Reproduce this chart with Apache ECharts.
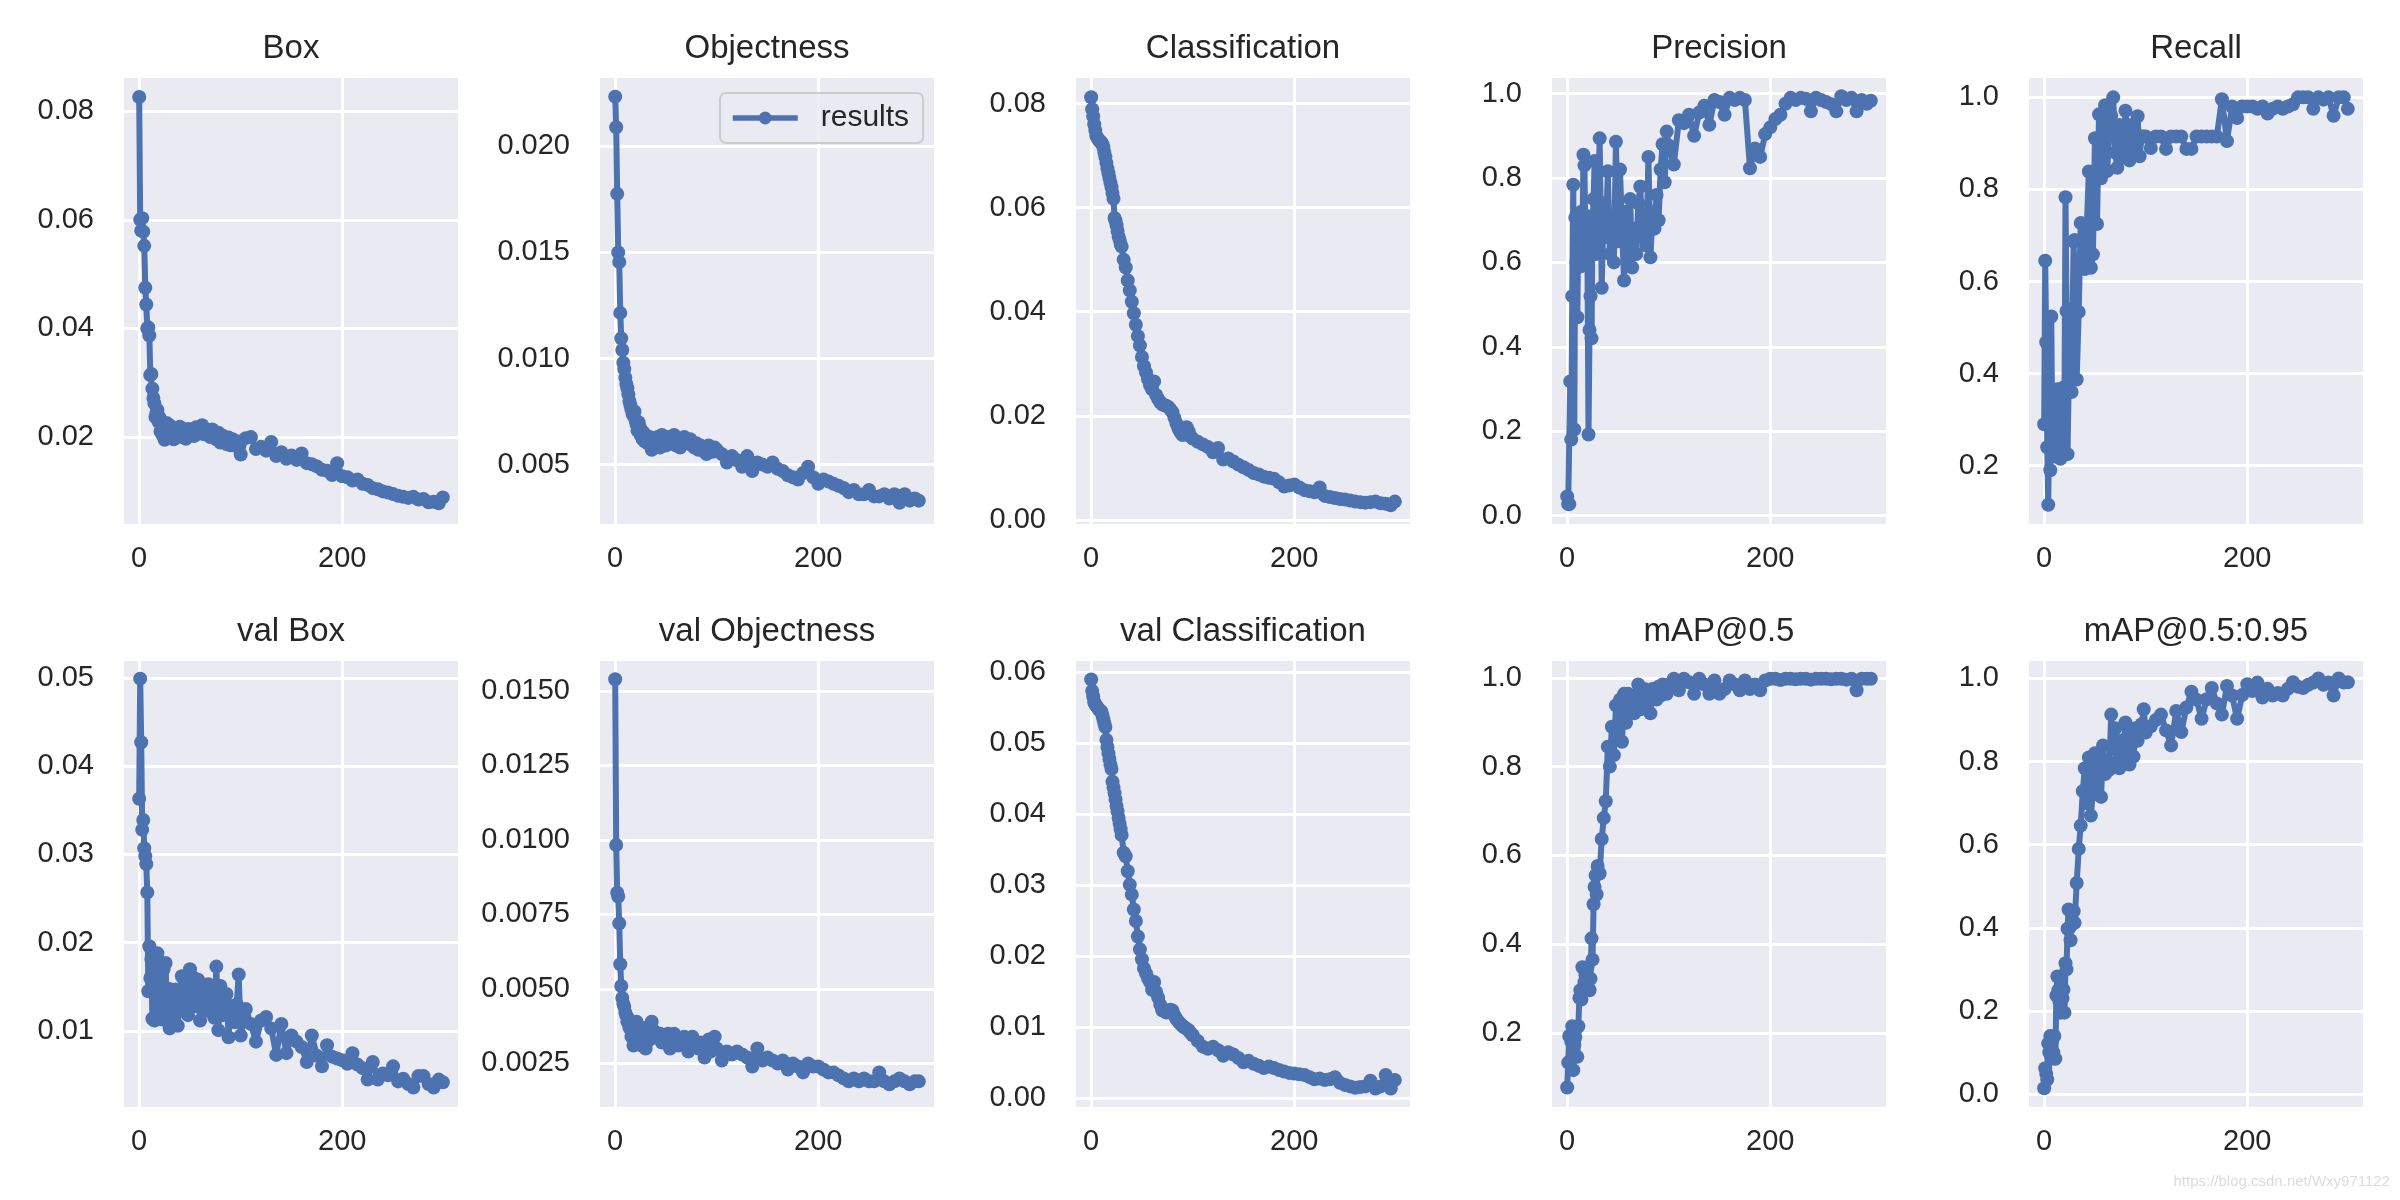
<!DOCTYPE html>
<html><head><meta charset="utf-8">
<script src="https://cdn.jsdelivr.net/npm/echarts@6/dist/echarts.min.js"></script>
<style>html,body{margin:0;padding:0;background:#fff}#c{width:2400px;height:1200px}</style>
</head><body><div id="c"></div>
<script>
// ---------- data (epochs and per-panel values) ----------
const epochs = [0,1,2,3,4,5,6,7,8,9,10,11,12,13,14,15,
 16,17,18,19,20,21,22,23,24,25,26,27,28,29,30,
 32,34,36,38,40,42,44,46,48,50,52,54,56,58,60,62,64,66,
 68,70,72,74,76,78,80,82,84,86,88,90,92,94,96,98,100,
 105,110,115,120,125,130,135,140,145,150,155,160,165,170,175,180,185,190,195,
 200,205,210,215,220,225,230,235,240,245,250,255,260,265,270,275,280,285,290,295,
 299];

const boxLoss = [0.0826,0.0600,0.0580,0.0603,0.0578,0.0552,0.0475,0.0444,0.0400,0.0402,0.0387,0.0314,0.0316,0.0289,0.0272,0.0262,
 0.0237,0.0245,0.0250,0.0228,0.0236,0.0210,0.0215,0.0204,0.0220,0.0195,0.0205,0.0226,0.0212,0.0198,0.0222,
 0.0208,0.0196,0.0215,0.0203,0.0219,0.0200,0.0210,0.0197,0.0215,0.0204,0.0212,0.0202,0.0218,0.0206,0.0214,0.0222,0.0205,0.0210,
 0.0213,0.0200,0.0214,0.0204,0.0196,0.0208,0.0190,0.0203,0.0194,0.0187,0.0199,0.0185,0.0196,0.0190,0.0183,0.0192,0.0168,
 0.0198,0.0200,0.0178,0.0182,0.0175,0.0191,0.0165,0.0172,0.0160,0.0166,0.0158,0.0170,0.0152,0.0150,0.0146,0.0140,0.0138,0.0130,0.0152,
 0.0128,0.0126,0.0120,0.0122,0.0114,0.0112,0.0106,0.0104,0.0100,0.0098,0.0095,0.0092,0.0090,0.0088,0.0090,0.0085,0.0086,0.0080,0.0081,0.0078,
 0.0089];

const objLoss = [0.02234,0.0209,0.01776,0.0150,0.01455,0.01215,0.01095,0.0104,0.0098,0.0095,0.0091,0.0088,0.0086,0.0083,0.0080,0.0078,
 0.0076,0.0074,0.0073,0.0075,0.0071,0.0069,0.0066,0.0070,0.0068,0.0064,0.0066,0.0062,0.0065,0.0061,0.0063,
 0.0060,0.0063,0.0057,0.0061,0.0059,0.0063,0.0058,0.0064,0.0062,0.0059,0.0063,0.0060,0.0061,0.0064,0.0059,0.0062,0.0058,0.0061,
 0.0063,0.0061,0.0060,0.0062,0.0059,0.0058,0.0060,0.0057,0.0059,0.0058,0.0056,0.0055,0.0059,0.0057,0.0056,0.0058,0.0057,
 0.0055,0.0051,0.0054,0.0052,0.0049,0.0054,0.0047,0.0051,0.0050,0.0049,0.0051,0.0048,0.0047,0.0045,0.0044,0.0043,0.0046,0.0049,0.0044,
 0.0041,0.0043,0.0042,0.0041,0.0040,0.0039,0.0037,0.0038,0.0036,0.0036,0.0038,0.0035,0.0035,0.0036,0.0034,0.0036,0.0032,0.0036,0.0033,0.0034,
 0.0033];

const clsLoss = [0.0812,0.0789,0.0775,0.0760,0.0749,0.0738,0.0734,0.0731,0.0729,0.0727,0.0725,0.0722,0.0716,0.0706,0.0697,0.0686,
 0.0675,0.0666,0.0657,0.0648,0.0639,0.0628,0.0617,0.0580,0.0575,0.0566,0.0555,0.0544,0.0538,0.0530,0.0525,
 0.0500,0.0485,0.0460,0.0441,0.0419,0.0397,0.0375,0.0353,0.0335,0.0313,0.0295,0.0283,0.0270,0.0258,0.0251,0.0266,0.0240,0.0232,
 0.0226,0.0222,0.0220,0.0219,0.0217,0.0212,0.0207,0.0196,0.0185,0.0175,0.0168,0.0163,0.0168,0.0178,0.0170,0.0160,0.0156,
 0.0150,0.0145,0.0140,0.0130,0.0138,0.0116,0.0118,0.0112,0.0106,0.0101,0.0096,0.0090,0.0087,0.0083,0.0081,0.0079,0.0072,0.0064,0.0066,
 0.0068,0.0062,0.0057,0.0055,0.0053,0.0062,0.0046,0.0044,0.0042,0.0040,0.0039,0.0037,0.0035,0.0034,0.0033,0.0034,0.0035,0.0032,0.0031,0.0028,
 0.0035];

const precision = [0.045,0.027,0.027,0.318,0.18,0.52,0.784,0.204,0.706,0.60,0.47,0.70,0.62,0.59,0.72,0.66,
 0.855,0.83,0.64,0.71,0.60,0.192,0.44,0.52,0.42,0.69,0.75,0.84,0.62,0.68,0.70,
 0.894,0.54,0.74,0.66,0.816,0.62,0.70,0.60,0.886,0.65,0.82,0.68,0.557,0.72,0.60,0.75,0.588,0.68,
 0.62,0.74,0.78,0.66,0.70,0.64,0.85,0.612,0.72,0.68,0.76,0.70,0.82,0.88,0.79,0.91,0.877,
 0.832,0.937,0.93,0.95,0.90,0.955,0.971,0.926,0.985,0.98,0.95,0.99,0.985,0.99,0.985,0.823,0.87,0.85,0.904,
 0.92,0.94,0.95,0.976,0.99,0.985,0.99,0.988,0.958,0.99,0.985,0.98,0.975,0.958,0.994,0.985,0.99,0.958,0.985,0.976,
 0.983];

const recall = [0.29,0.645,0.468,0.24,0.115,0.30,0.19,0.524,0.25,0.23,0.33,0.22,0.35,0.366,0.24,0.30,
 0.215,0.36,0.227,0.37,0.35,0.783,0.536,0.225,0.362,0.52,0.40,0.36,0.54,0.687,0.69,
 0.387,0.534,0.727,0.655,0.627,0.72,0.839,0.63,0.659,0.911,0.725,0.963,0.824,0.896,0.983,0.84,0.915,0.96,
 1.0,0.88,0.847,0.94,0.915,0.87,0.971,0.915,0.863,0.94,0.915,0.88,0.959,0.872,0.915,0.915,0.915,
 0.89,0.915,0.915,0.888,0.915,0.915,0.915,0.888,0.888,0.915,0.915,0.915,0.915,0.915,0.996,0.905,0.98,0.955,0.98,
 0.98,0.98,0.975,0.98,0.965,0.975,0.98,0.975,0.98,0.985,1.0,1.0,1.0,0.975,1.0,0.995,1.0,0.96,1.0,1.0,
 0.975];

const valBox = [0.0363,0.0499,0.0427,0.0328,0.0339,0.0307,0.0298,0.0289,0.0257,0.0145,0.0196,0.0160,0.0181,0.0114,0.0150,0.0112,
 0.0175,0.0130,0.0188,0.0118,0.0160,0.0125,0.0142,0.0113,0.0170,0.0128,0.0177,0.0135,0.0118,0.0148,0.0103,
 0.0132,0.0120,0.0147,0.0106,0.0140,0.0162,0.0125,0.0150,0.0118,0.0170,0.0140,0.0160,0.0128,0.0158,0.0112,0.0145,0.0125,0.0138,
 0.0153,0.0122,0.0140,0.0115,0.0173,0.0101,0.0151,0.0118,0.0135,0.0142,0.0093,0.0128,0.0121,0.0110,0.0130,0.0164,0.0095,
 0.0125,0.0108,0.0088,0.0112,0.0116,0.0103,0.0073,0.0108,0.0075,0.0095,0.0088,0.0082,0.0065,0.0095,0.0072,0.0060,0.0084,0.0071,0.0069,
 0.0067,0.0063,0.0075,0.0062,0.0058,0.0045,0.0065,0.0045,0.0052,0.0050,0.0060,0.0043,0.0046,0.0040,0.0036,0.0049,0.0049,0.0040,0.0036,0.0045,
 0.0042];

const valObj = [0.01539,0.00983,0.00823,0.0081,0.0072,0.00583,0.0051,0.0047,0.0045,0.0044,0.0042,0.0041,0.0039,0.0040,0.0037,0.0038,
 0.0034,0.0036,0.0031,0.0035,0.0038,0.0039,0.0033,0.0036,0.0032,0.0035,0.0031,0.0037,0.0034,0.0032,0.0030,
 0.0035,0.0033,0.0039,0.0036,0.0035,0.0034,0.0035,0.0032,0.0034,0.0033,0.0035,0.0030,0.0033,0.0035,0.0034,0.0031,0.0033,0.0032,
 0.0034,0.0033,0.0029,0.0031,0.0034,0.0032,0.0031,0.0030,0.0032,0.0031,0.0027,0.0030,0.0033,0.0029,0.0031,0.0034,0.0030,
 0.0026,0.0029,0.0028,0.0029,0.0028,0.0027,0.0024,0.0030,0.0026,0.0027,0.0026,0.0025,0.0026,0.0023,0.0025,0.0024,0.0022,0.0025,0.0024,
 0.0024,0.0023,0.0022,0.0022,0.0021,0.0020,0.0019,0.0020,0.0019,0.0020,0.0019,0.0019,0.0022,0.0019,0.0018,0.0019,0.0020,0.0019,0.0018,0.0019,
 0.0019];

const valCls = [0.0590,0.0574,0.0566,0.0558,0.0555,0.0553,0.0551,0.0549,0.0547,0.0546,0.0545,0.0540,0.0534,0.0528,0.0523,0.0505,
 0.0495,0.0486,0.0478,0.0470,0.0464,0.0446,0.0438,0.0430,0.0421,0.0412,0.0404,0.0395,0.0387,0.0379,0.0371,
 0.0346,0.0341,0.0320,0.0301,0.0287,0.0266,0.0250,0.0228,0.0210,0.0196,0.0183,0.0176,0.0169,0.0164,0.0153,0.0164,0.0150,0.0142,
 0.0132,0.0124,0.0123,0.0121,0.0122,0.0125,0.0124,0.0117,0.0112,0.0108,0.0105,0.0102,0.0100,0.0098,0.0096,0.0092,0.0089,
 0.0081,0.0073,0.0070,0.0073,0.0068,0.0060,0.0065,0.0062,0.0057,0.0051,0.0053,0.0049,0.0046,0.0043,0.0045,0.0043,0.0040,0.0038,0.0036,
 0.0035,0.0034,0.0033,0.0030,0.0027,0.0028,0.0026,0.0027,0.0030,0.0022,0.0019,0.0017,0.0015,0.0016,0.0017,0.0025,0.0014,0.0017,0.0033,0.0014,
 0.0026];

const map50 = [0.077,0.133,0.193,0.137,0.18,0.215,0.116,0.172,0.19,0.21,0.146,0.215,0.279,0.296,0.275,0.348,
 0.30,0.314,0.33,0.322,0.348,0.30,0.296,0.322,0.413,0.365,0.49,0.529,0.555,0.512,0.576,
 0.559,0.637,0.684,0.722,0.845,0.80,0.89,0.826,0.938,0.869,0.951,0.856,0.964,0.899,0.964,0.93,0.955,0.92,
 0.96,0.985,0.929,0.96,0.975,0.94,0.97,0.92,0.975,0.955,0.951,0.98,0.96,0.985,0.975,0.964,0.985,
 0.998,0.972,0.998,0.99,0.964,0.998,0.985,0.964,0.994,0.964,0.975,0.994,0.985,0.972,0.994,0.975,0.985,0.972,0.994,
 0.998,0.998,0.995,0.998,0.998,0.997,0.998,0.998,0.996,0.998,0.998,0.998,0.997,0.998,0.998,0.996,0.998,0.972,0.998,0.998,
 0.998];

const map5095 = [0.014,0.0625,0.049,0.035,0.122,0.10,0.14,0.085,0.13,0.10,0.14,0.085,0.237,0.283,0.25,0.223,
 0.196,0.26,0.23,0.251,0.196,0.315,0.30,0.398,0.444,0.40,0.37,0.44,0.41,0.44,0.412,
 0.508,0.59,0.646,0.729,0.784,0.70,0.81,0.67,0.729,0.82,0.75,0.80,0.715,0.839,0.77,0.80,0.78,0.913,
 0.83,0.88,0.80,0.784,0.85,0.82,0.894,0.86,0.793,0.87,0.812,0.88,0.85,0.867,0.89,0.926,0.87,
 0.885,0.90,0.913,0.875,0.839,0.922,0.871,0.93,0.968,0.949,0.903,0.95,0.977,0.94,0.913,0.982,0.959,0.903,0.96,
 0.986,0.97,0.99,0.954,0.975,0.959,0.965,0.959,0.975,0.991,0.98,0.977,0.985,0.99,1.0,0.985,0.99,0.959,1.0,0.99,
 0.991];

const titles = ['Box','Objectness','Classification','Precision','Recall',
  'val Box','val Objectness','val Classification','mAP@0.5','mAP@0.5:0.95'];
const seriesValues = [boxLoss,objLoss,clsLoss,precision,recall,valBox,valObj,valCls,map50,map5095];
const seriesName = 'results';
const xTickStep = 200;

// ---------- layout / axis settings ----------
const yAxisCfg = [
  {min:0.004,  max:0.0861, step:0.02,   dec:2},
  {min:0.0022, max:0.02322,step:0.005,  dec:3},
  {min:-0.0008,max:0.0849, step:0.02,   dec:2},
  {min:-0.02,  max:1.037,  step:0.2,    dec:1},
  {min:0.0733, max:1.042,  step:0.2,    dec:1},
  {min:0.0014, max:0.0519, step:0.01,   dec:2},
  {min:0.00104,max:0.0160, step:0.0025, dec:4},
  {min:-0.0012,max:0.0616, step:0.01,   dec:2},
  {min:0.033,  max:1.038,  step:0.2,    dec:1},
  {min:-0.031, max:1.042,  step:0.2,    dec:1}
];
const colLeft = [124, 600, 1076, 1552, 2029];
const gridW = 334;
const rowTop = [78, 661];
const gridH = 446;
const FONT = '"Liberation Sans", Arial, sans-serif';
const INK = '#262626';
const BLUE = '#4c72b0';

const grids = [], xAxes = [], yAxes = [], series = [], graphics = [];
titles.forEach((t, i) => {
  const c = i % 5, r = Math.floor(i / 5);
  grids.push({left: colLeft[c], top: rowTop[r], width: gridW, height: gridH,
    show: true, backgroundColor: '#eaeaf2', borderWidth: 0, containLabel: false});
  xAxes.push({gridIndex: i, type: 'value', min: -14.95, max: 313.95,
    minInterval: xTickStep, maxInterval: xTickStep,
    axisLine: {show: false}, axisTick: {show: false},
    axisLabel: {fontSize: 29, color: INK, fontFamily: FONT, margin: 20,
      showMinLabel: false, showMaxLabel: false, formatter: v => String(Math.round(v))},
    splitLine: {show: true, showMinLine: false, showMaxLine: false, lineStyle: {color: '#ffffff', width: 2.8}}
  });
  const y = yAxisCfg[i];
  yAxes.push({gridIndex: i, type: 'value', min: y.min, max: y.max,
    minInterval: y.step, maxInterval: y.step,
    axisLine: {show: false}, axisTick: {show: false},
    axisLabel: {fontSize: 29, color: INK, fontFamily: FONT, margin: 30,
      showMinLabel: false, showMaxLabel: false, formatter: v => v.toFixed(y.dec)},
    splitLine: {show: true, showMinLine: false, showMaxLine: false, lineStyle: {color: '#ffffff', width: 2.8}}
  });
  const vals = seriesValues[i];
  series.push({type: 'line', name: seriesName, xAxisIndex: i, yAxisIndex: i,
    data: epochs.map((e, j) => [e, vals[j]]),
    symbol: 'circle', symbolSize: 14, showAllSymbol: true,
    lineStyle: {width: 6, color: BLUE}, itemStyle: {color: BLUE},
    emphasis: {disabled: true}, animation: false, clip: true});
  graphics.push({type: 'text', x: colLeft[c] + gridW / 2, y: r === 0 ? 49 : 632,
    style: {text: t, font: '33px ' + FONT, fill: INK, textAlign: 'center', textVerticalAlign: 'middle'}});
});
graphics.push({type: 'text', x: 2390, y: 1182,
  style: {text: 'https://blog.csdn.net/Wxy971122', font: '15px ' + FONT,
    fill: 'rgba(190,190,190,0.55)', textAlign: 'right', textVerticalAlign: 'middle'}});

const chart = echarts.init(document.getElementById('c'), null, {renderer: 'canvas', width: 2400, height: 1200});
chart.setOption({
  animation: false,
  backgroundColor: '#ffffff',
  grid: grids, xAxis: xAxes, yAxis: yAxes, series: series,
  legend: {show: true, data: [seriesName], left: 720, top: 93, orient: 'horizontal',
    padding: [10, 14, 10, 10], itemWidth: 65, itemHeight: 16,
    lineStyle: {width: 5.5, color: BLUE}, itemStyle: {color: BLUE},
    backgroundColor: 'rgba(234,234,242,0.8)', borderColor: '#cccccc', borderWidth: 2, borderRadius: 6,
    textStyle: {fontSize: 30, color: INK, fontFamily: FONT, padding: [0, 0, 0, 18]}},
  graphic: graphics
});
</script></body></html>
